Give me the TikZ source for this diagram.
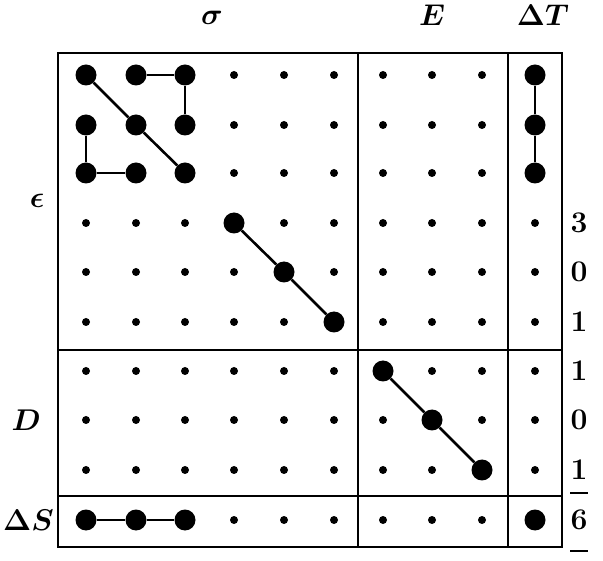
\RequirePackage{fix-cm}
\documentclass[tikz,border=0pt]{standalone}
\usepackage{amsmath}
\usepackage{amssymb}
\usepackage{bm}
\usepackage{tikz}
\usetikzlibrary{positioning}

\begin{document}
\begin{tikzpicture}[
        x=1pt, y=-1pt,
        dot/.style={
            circle,
            fill=black,
            inner sep=0pt,
            minimum size=8pt
        },
        bigdot/.style={
            circle,
            fill=black,
            inner sep=0pt,
            minimum size=21pt
        },
        link/.style={
            line width=2.6pt,
            draw=black
        },
        frame/.style={
            line width=2.4pt,
            draw=black
        },
        tag/.style={
            font=\fontsize{30}{32}\selectfont\boldmath,
            inner sep=0pt
        }
    ]
        \useasboundingbox (0,0) rectangle (603,561);

        % grid of points
        \foreach \yy [count=\r] in {75,125,173,223,272,322,371,420,470,520} {
            \foreach \xx [count=\c] in {86,136,185,234,284,334,383,432,482,535} {
                \node[dot] (p\r-\c) at (\xx,\yy) {};
            }
        }

        % blocks
        \coordinate (nw) at (58,53);
        \coordinate (se) at (562,547);
        \draw[frame] (nw) rectangle (se);
        \draw[frame] (358,53) -- (358,547);
        \draw[frame] (508,53) -- (508,547);
        \draw[frame] (58,350) -- (562,350);
        \draw[frame] (58,496) -- (562,496);

        % occupied points
        \foreach \r/\c in {1/1,1/2,1/3,2/1,2/2,2/3,3/1,3/2,3/3,4/4,5/5,6/6,7/7,8/8,9/9,1/10,2/10,3/10,10/1,10/2,10/3,10/10}
            \node[bigdot] (b\r-\c) at (p\r-\c) {};

        \draw[link] (b1-1) -- (b2-2) -- (b3-3);
        \draw[link] (b1-2) -- (b1-3) -- (b2-3);
        \draw[link] (b2-1) -- (b3-1) -- (b3-2);
        \draw[link] (b4-4) -- (b5-5) -- (b6-6);
        \draw[link] (b7-7) -- (b8-8) -- (b9-9);
        \draw[link] (b1-10) -- (b2-10) -- (b3-10);
        \draw[link] (b10-1) -- (b10-2) -- (b10-3);

        % labels
        \node[tag] (sig) at (212,18) {$\sigma$};
        \node[tag] (ee) at (432,15) {$E$};
        \node[tag] (dt) at (543,15) {$\Delta T$};
        \node[tag] (eps) at (37,201) {$\epsilon$};
        \node[tag, anchor=east] (dd) at (41,420) {$D$};
        \node[tag, anchor=west] (ds) at (3,520) {$\Delta S$};

        \foreach \yy/\v [count=\i] in {223/3,272/0,322/1,371/1,420/0,470/1,520/6}
            \node[tag] (n\i) at (579,\yy) {\textbf{\v}};
        \draw[line width=2pt] (570,493) -- (588,493);
        \draw[line width=2pt] (570,551) -- (588,551);
    \end{tikzpicture}
\end{document}
